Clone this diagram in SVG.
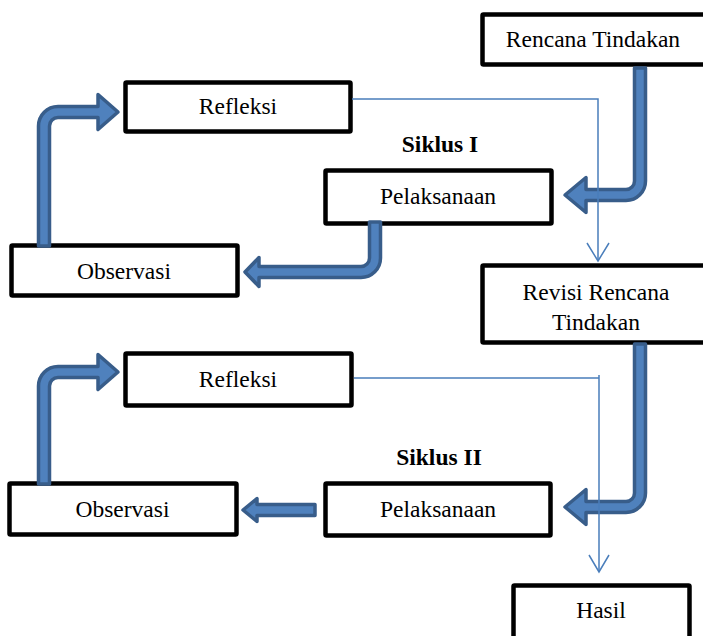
<svg xmlns="http://www.w3.org/2000/svg" width="703" height="636" viewBox="0 0 703 636">
<style>
.box{fill:#ffffff;stroke:#000000;stroke-width:4.5;stroke-linejoin:round}
.t{font-family:"Liberation Serif","Times New Roman",serif;font-size:23.5px;fill:#000000;text-anchor:middle}
.b{font-weight:bold}
.blk{fill:#4f81bd;stroke:#385d8a;stroke-width:3.5;stroke-linejoin:round}
.thin{fill:none;stroke:#4a7ebb;stroke-width:1.5}
</style>
<rect width="703" height="636" fill="#ffffff"/>
<g id="rencana"><rect class="box" x="482.5" y="14.5" width="240" height="50" rx="1"/><text class="t" x="593" y="47">Rencana Tindakan</text></g>
<g id="refleksi1"><rect class="box" x="125.5" y="82.5" width="225" height="49" rx="1"/><text class="t" x="238" y="114">Refleksi</text></g>
<g id="siklus1"><text class="t b" x="440" y="152">Siklus I</text></g>
<g id="pelaksanaan1"><rect class="box" x="325.5" y="170.5" width="226" height="53" rx="1"/><text class="t" x="438" y="204">Pelaksanaan</text></g>
<g id="observasi1"><rect class="box" x="11.5" y="245.5" width="226" height="50" rx="1"/><text class="t" x="124" y="279">Observasi</text></g>
<g id="revisi"><rect class="box" x="482.5" y="265.5" width="240" height="77" rx="1"/><text class="t" x="596" y="300">Revisi Rencana</text><text class="t" x="596" y="330">Tindakan</text></g>
<g id="refleksi2"><rect class="box" x="125.5" y="353.5" width="226" height="52" rx="1"/><text class="t" x="238" y="387">Refleksi</text></g>
<g id="siklus2"><text class="t b" x="439" y="465">Siklus II</text></g>
<g id="observasi2"><rect class="box" x="9.5" y="483.5" width="227" height="51" rx="1"/><text class="t" x="122.5" y="517">Observasi</text></g>
<g id="pelaksanaan2"><rect class="box" x="325.5" y="483.5" width="225" height="52" rx="1"/><text class="t" x="438" y="517">Pelaksanaan</text></g>
<g id="hasil"><rect class="box" x="513.5" y="585.5" width="176" height="70" rx="1"/><text class="t" x="601" y="618">Hasil</text></g>
<g id="connectors">
<path class="blk" d="M634.5,68 H645.5 V181 A19.5,19.5 0 0 1 626,200.5 H586 V212.5 L565,195 L586,177.5 V189.5 H626 A8.5,8.5 0 0 0 634.5,181 Z"/>
<path class="blk" d="M369.5,222 H380.5 V258 A19.5,19.5 0 0 1 361,277.5 H259 V286.5 L245,272 L259,257.5 V266.5 H361 A8.5,8.5 0 0 0 369.5,258 Z"/>
<path class="blk" d="M38.5,246 V126 A19.5,19.5 0 0 1 58,106.5 H98 V94.5 L118,112 L98,129.5 V117.5 H58 A8.5,8.5 0 0 0 49.5,126 V246 Z"/>
<path class="blk" d="M634.5,344 H645.5 V493 A19.5,19.5 0 0 1 626,512.5 H586 V524.5 L565,507 L586,489.5 V501.5 H626 A8.5,8.5 0 0 0 634.5,493 Z"/>
<path class="blk" d="M315,504.5 V515.5 H257 V521.5 L243,510 L257,498.5 V504.5 Z"/>
<path class="blk" d="M38.5,484 V386 A19.5,19.5 0 0 1 58,366.5 H98 V354.5 L118,372 L98,389.5 V377.5 H58 A8.5,8.5 0 0 0 49.5,386 V484 Z"/>
<path class="thin" d="M352,99 H598 V261"/>
<polyline class="thin" points="587,243 598,261 609,243"/>
<path class="thin" d="M354,378 H599 M599,375 V572"/>
<polyline class="thin" points="589,555 599,572 609,555"/>
</g>
</svg>
